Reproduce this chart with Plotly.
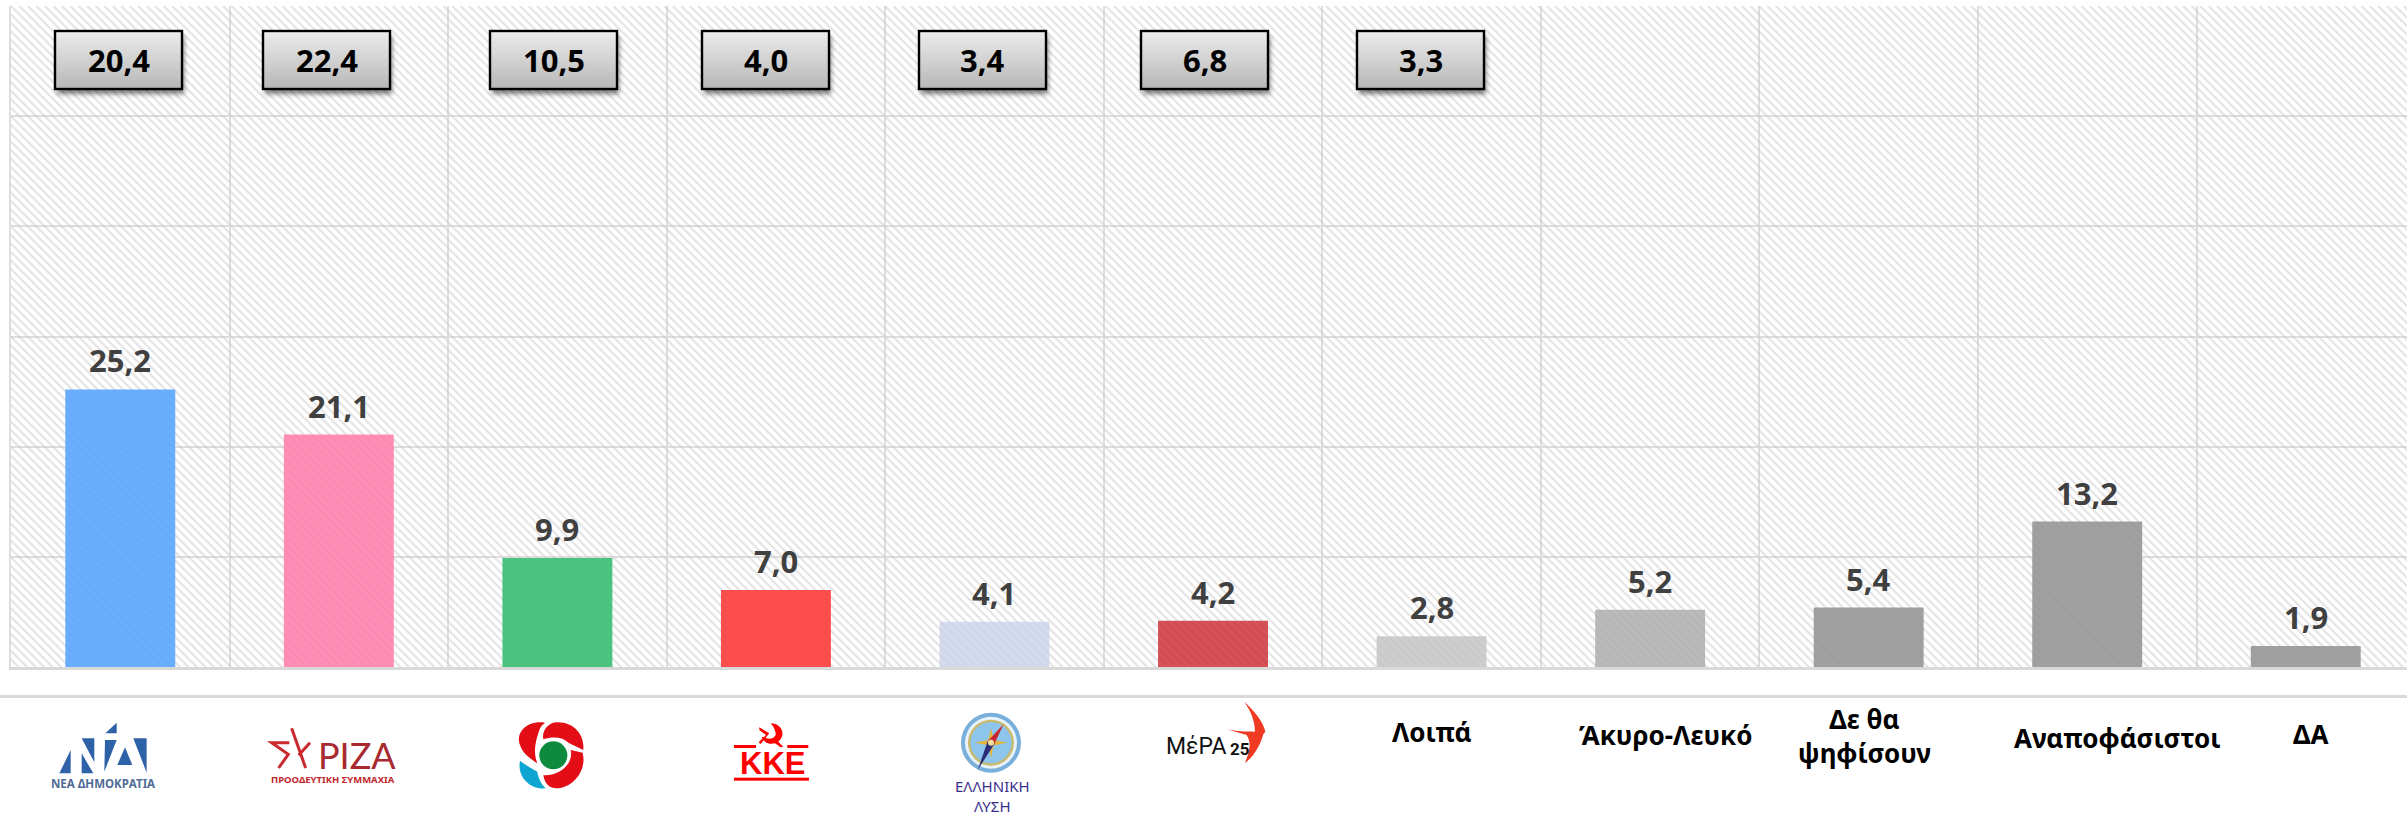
import base64
import plotly.graph_objects as go

categories = ["ΝΔ", "ΣΥΡΙΖΑ", "ΠΑΣΟΚ", "ΚΚΕ", "Ελληνική Λύση", "ΜέΡΑ25", "Λοιπά",
              "Άκυρο-Λευκό", "Δε θα<br>ψηφίσουν", "Αναποφάσιστοι", "ΔΑ"]
current_values = [25.2, 21.1, 9.9, 7.0, 4.1, 4.2, 2.8, 5.2, 5.4, 13.2, 1.9]
previous_values = [20.4, 22.4, 10.5, 4.0, 3.4, 6.8, 3.3]
bar_colors = ["#69AEFF", "#FF8DB5", "#4CC481", "#FF4D4D", "#D4DBEF", "#D34E54",
              "#CDCDCD", "#B9B9B9", "#A0A0A0", "#A0A0A0", "#A0A0A0"]

W, H = 2407, 816
PLOT_L, PLOT_T, PLOT_B = 11, 6, 667
CAT_W = 218.55
GRID = "#DEDEDE"
VALUE_FONT = "Open Sans"
LABEL_FONT = "Noto Sans"


def fmt(v):
    return f"{v:.1f}".replace(".", ",")


def px(x):
    return x / W


def py(y):
    return 1 - y / H


box_lefts = [55, 263, 490, 702, 919, 1141, 1357]
BOX_W, BOX_H, BOX_T = 127, 58, 31

boxes_svg = "".join(
    f'<rect x="{x+2}" y="{BOX_T+5}" width="{BOX_W}" height="{BOX_H}" fill="#000" opacity=".5" filter="url(#s)"/>'
    f'<rect x="{x}" y="{BOX_T}" width="{BOX_W}" height="{BOX_H}" fill="url(#g)" stroke="#000" stroke-width="2.4"/>'
    for x in box_lefts
)

logos_svg = """
<g filter="url(#b)">
<g transform="translate(40,710) scale(.3333)" fill="#2F62A8">
<path d="M230 38L196 70H230Z"/><path d="M92 120L58 190H92Z"/><path d="M125 85H163V157Z"/>
<path d="M125 130V190H160Z"/><path d="M195 90H230L193 185Z"/><path d="M255 112L232 165H277Z"/>
<path d="M280 85H320V188Z"/></g>
<g transform="translate(40,710) scale(.3333)" fill="none" stroke="#C8292F" stroke-width="9">
<path d="M748 98H695L745 133L716 174"/><path d="M755 55L797 174"/><path d="M810 98L776 136"/></g>
<g transform="translate(500,700) scale(.3333)">
<path fill="#E30A17" d="M135 68C85 60 45 95 60 135C68 160 90 175 112 190C100 160 105 130 115 100C118 85 125 75 135 68Z"/>
<path fill="#E30A17" d="M160 68C215 60 255 100 250 150L205 128C190 112 160 108 130 118C125 95 140 75 160 68Z"/>
<path fill="#E30A17" d="M248 158L212 150C222 190 180 228 130 226C135 255 150 265 170 265C215 265 262 215 248 158Z"/>
<path fill="#0BA5D1" d="M60 182C75 195 95 205 112 215C115 235 125 255 138 265C95 270 50 235 60 182Z"/>
<circle cx="160" cy="166" r="42" fill="#0F8A3C"/></g>
<g transform="translate(500,700) scale(.3333)" fill="#FF0000">
<rect x="702" y="135" width="66" height="9"/><rect x="862" y="135" width="63" height="9"/>
<rect x="702" y="233" width="225" height="9"/>
<path d="M812 70C845 70 860 105 835 125L850 140L842 142L825 130C805 135 790 125 785 110L793 112C810 122 835 112 825 92C822 82 817 75 812 70Z"/>
<path d="M778 82L808 100L782 132L776 127L798 105L778 90Z"/></g>
<g transform="translate(930,700) scale(.3333)">
<circle cx="183" cy="128" r="90" fill="#78AFDB"/><circle cx="183" cy="128" r="78" fill="#E8F2FA"/>
<circle cx="183" cy="128" r="69" fill="#C9BA6A"/><circle cx="183" cy="128" r="62" fill="#8EC5EC"/>
<path fill="#E3B53C" d="M183 85L191 120L232 128L191 136L183 175L175 136L135 128L175 120Z"/>
<path fill="#C8282E" d="M221 72L193 132L173 124Z"/><path fill="#2A2D78" d="M143 210L173 124L193 132Z"/>
<circle cx="183" cy="128" r="9" fill="#F1DFA0"/></g>
<g transform="translate(930,700) scale(.3333)">
<path fill="#EE3A24" d="M943 5C975 35 1000 65 1006 95L1000 103C990 140 970 170 945 190C960 150 965 130 950 105L890 88C920 95 950 95 975 95C975 60 960 30 943 5Z"/></g>
</g>
"""

svg = f"""<svg xmlns="http://www.w3.org/2000/svg" width="{W}" height="{H}" viewBox="0 0 {W} {H}">
<defs>
<linearGradient id="g" x1="0" y1="0" x2="0" y2="1"><stop offset="0" stop-color="#ECECEC"/><stop offset="1" stop-color="#B7B7B7"/></linearGradient>
<filter id="s" x="-20%" y="-30%" width="140%" height="160%"><feGaussianBlur stdDeviation="2.5"/></filter>
<filter id="b"><feGaussianBlur stdDeviation=".45"/></filter>
</defs>
{boxes_svg}{logos_svg}</svg>"""
overlay = "data:image/svg+xml;base64," + base64.b64encode(svg.encode("utf-8")).decode()

x_idx = list(range(len(categories)))
fig = go.Figure()

# hatched plot background (spans the whole value axis)
fig.add_bar(x=x_idx, y=[60] * len(x_idx), width=1, hoverinfo="skip", showlegend=False,
            marker=dict(color="rgba(0,0,0,0)", line_width=0,
                        pattern=dict(shape="\\", size=6, solidity=0.34,
                                     fgcolor="#C6C6C6", bgcolor="rgba(0,0,0,0)")))
fig.add_bar(x=x_idx, y=current_values, width=0.503, showlegend=False, name="",
            customdata=categories,
            marker=dict(color=bar_colors, line_width=0,
                        pattern=dict(shape="\\", size=6, solidity=0.3,
                                     fgcolor="#000000", fgopacity=0.035)))

ann = []
# value labels above the bars
for i, v in zip(x_idx, current_values):
    ann.append(dict(x=i, y=v, xref="x", yref="y", xanchor="center", yanchor="bottom", yshift=6,
                    showarrow=False, text=fmt(v),
                    font=dict(family=VALUE_FONT, size=31, color="#404040", weight="bold")))
# previous-result boxes
for left, v in zip(box_lefts, previous_values):
    ann.append(dict(x=px(left + BOX_W / 2), y=py(BOX_T + BOX_H / 2), xref="paper", yref="paper",
                    xanchor="center", yanchor="middle", showarrow=False, text=fmt(v),
                    font=dict(family=VALUE_FONT, size=31, color="#000000", weight="bold")))

# text categories under the axis
label_pos = {6: (1432, 732), 7: (1665, 735), 8: (1865, 736), 9: (2117, 738), 10: (2310, 734)}
for i, (cx, cy) in label_pos.items():
    ann.append(dict(x=px(cx), y=py(cy), xref="paper", yref="paper", xanchor="center", yanchor="middle",
                    showarrow=False, text=categories[i], align="center",
                    font=dict(family=LABEL_FONT, size=26, color="#000000", weight="bold")))


def logo_text(text, cx, cy, size, color, family="Noto Sans", weight="bold"):
    ann.append(dict(x=px(cx), y=py(cy), xref="paper", yref="paper", xanchor="center", yanchor="middle",
                    showarrow=False, text=text, align="center",
                    font=dict(family=family, size=size, color=color, weight=weight)))


logo_text("ΝΕΑ ΔΗΜΟΚΡΑΤΙΑ", 103, 783, 11.5, "#4F6C96")
logo_text("ΡΙΖΑ", 357, 755, 36, "#A82A30", "Lato", "normal")
logo_text("ΠΡΟΟΔΕΥΤΙΚΗ ΣΥΜΜΑΧΙΑ", 333, 779, 9.5, "#C0272D")
logo_text("ΚΚΕ", 772, 763, 31, "#FF0000", "Liberation Sans")
logo_text("ΕΛΛΗΝΙΚΗ<br>ΛΥΣΗ", 992, 796, 15, "#3B2F8C", "Noto Sans", "normal")
logo_text("ΜέΡΑ", 1196, 746, 23, "#111111", "Roboto", "normal")
logo_text("25", 1240, 749, 17, "#111111", "Roboto", "bold")

fig.update_layout(
    width=W, height=H, autosize=False,
    margin=dict(l=0, r=0, t=0, b=0),
    paper_bgcolor="#FFFFFF", plot_bgcolor="#FFFFFF",
    barmode="overlay", showlegend=False,
    xaxis=dict(domain=[px(PLOT_L), 1], range=[-0.5, -0.5 + (W - PLOT_L) / CAT_W],
               tickvals=[i + 0.5 for i in x_idx], showticklabels=False, ticks="",
               showgrid=True, gridcolor=GRID, gridwidth=2, zeroline=False,
               showline=True, linecolor="#D9D9D9", linewidth=3),
    yaxis=dict(domain=[py(PLOT_B), py(PLOT_T)], range=[0, 60], dtick=10,
               showticklabels=False, ticks="", showgrid=True, gridcolor=GRID, gridwidth=2,
               zeroline=False, showline=True, linecolor="#DEDEDE", linewidth=2),
    annotations=ann,
    shapes=[dict(type="line", xref="paper", yref="paper", x0=0, x1=1, y0=py(696.5), y1=py(696.5),
                 line=dict(color="#D9D9D9", width=3))],
    images=[dict(source=overlay, xref="paper", yref="paper", x=0, y=1, sizex=1, sizey=1,
                 xanchor="left", yanchor="top", sizing="stretch", layer="above")],
)

fig.write_html("out.html", config={"displayModeBar": False},
               post_script="document.body.style.margin='0';document.documentElement.style.overflow='hidden';")
